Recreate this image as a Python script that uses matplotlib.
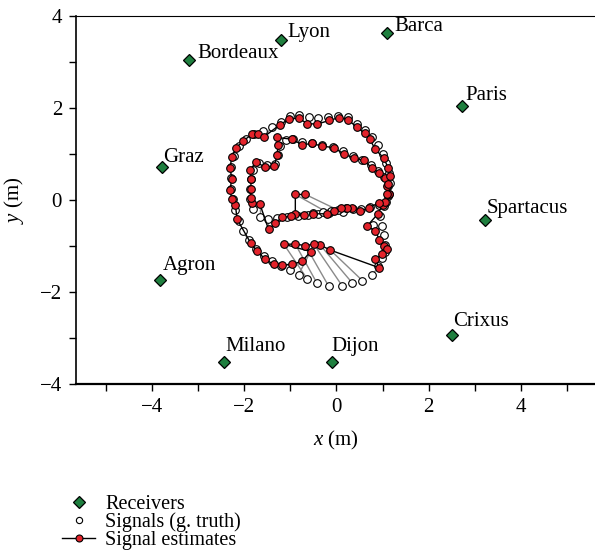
import numpy as np
import matplotlib
matplotlib.use('Agg')
import matplotlib.pyplot as plt
from matplotlib.lines import Line2D

plt.rcParams['font.family'] = ['Liberation Serif', 'DejaVu Serif']
plt.rcParams['mathtext.fontset'] = 'custom'
plt.rcParams['mathtext.rm'] = 'Liberation Serif'
plt.rcParams['mathtext.it'] = 'Liberation Serif:italic'

# receiver positions (m)
rx_names = ['Bordeaux', 'Lyon', 'Barca', 'Paris', 'Graz',
            'Spartacus', 'Agron', 'Crixus', 'Milano', 'Dijon']
rx_x = [-3.19, -1.20, 1.10, 2.72, -3.78, 3.22, -3.81, 2.50, -2.43, -0.10]
rx_y = [3.04, 3.48, 3.63, 2.04, 0.72, -0.43, -1.74, -2.93, -3.52, -3.52]

# ground truth signal track
true_x = [0.14, -0.16, -0.40, -0.62, -0.84, -1.06, -1.28, -1.48, -1.66, -1.80,
          -1.87, -1.88, -1.86, -1.80, -1.68, -1.50, -1.32, -1.26, -1.22, -1.10,
          -0.94, -0.74, -0.53, -0.31, -0.08, 0.14, 0.36, 0.56, 0.74, 0.90,
          1.04, 1.12, 1.12, 1.04, 0.95, 0.80, 0.98, 1.03, 1.06, 1.05,
          0.99, 0.91, 0.76, 0.56, 0.34, 0.12, -0.17, -0.42, -0.63, -0.82,
          -1.00, -1.20, -1.40, -1.57, -1.75, -1.90, -2.03, -2.12, -2.20, -2.25,
          -2.28, -2.29, -2.28, -2.22, -2.10, -1.95, -1.78, -1.58, -1.40, -1.20,
          -1.00, -0.80, -0.60, -0.40, -0.18, 0.04, 0.25, 0.45, 0.62, 0.78,
          0.90, 1.00, 1.08, 1.14, 1.16, 1.14, 1.08, 0.92, 0.72, 0.54,
          0.36, 0.20, 0.04, -0.12, -0.30, -0.50]
true_y = [-0.27, -0.29, -0.31, -0.33, -0.35, -0.37, -0.40, -0.42, -0.36, -0.20,
          0.02, 0.24, 0.46, 0.66, 0.80, 0.76, 0.78, 0.98, 1.18, 1.30,
          1.32, 1.26, 1.25, 1.20, 1.16, 1.06, 0.96, 0.88, 0.76, 0.62,
          0.50, 0.30, 0.08, -0.14, -0.34, -0.55, -0.57, -0.76, -0.97, -1.12,
          -1.26, -1.43, -1.62, -1.75, -1.80, -1.86, -1.87, -1.81, -1.72, -1.62,
          -1.52, -1.43, -1.33, -1.21, -1.06, -0.88, -0.68, -0.46, -0.22, 0.02,
          0.25, 0.48, 0.72, 0.96, 1.18, 1.33, 1.43, 1.50, 1.58, 1.70,
          1.83, 1.84, 1.81, 1.79, 1.81, 1.83, 1.80, 1.66, 1.52, 1.38,
          1.20, 1.00, 0.80, 0.58, 0.36, 0.14, -0.04, -0.10, -0.16, -0.20,
          -0.20, -0.18, -0.22, -0.24, -0.26, -0.28]

# estimated signal track
est_x = [-0.67, -0.89, -0.89, -0.71, -0.98, -1.18, -1.32, -1.47, -1.66, -1.82,
         -1.86, -1.86, -1.84, -1.87, -1.74, -1.55, -1.35, -1.28, -1.27, -1.28,
         -0.96, -0.74, -0.53, -0.31, -0.06, 0.16, 0.38, 0.59, 0.77, 0.92,
         1.06, 1.10, 1.13, 1.00, 0.90, 0.66, 0.84, 0.93, 1.02, 1.10,
         0.99, 0.84, 0.92, -0.13, -0.35, -0.49, -0.67, -0.89, -1.14, -0.56,
         -0.74, -0.96, -1.18, -1.36, -1.54, -1.72, -1.86, -2.15, -2.19, -2.27,
         -2.30, -2.27, -2.30, -2.27, -2.17, -2.02, -1.82, -1.70, -1.56, -1.22,
         -1.02, -0.82, -0.63, -0.42, -0.15, 0.05, 0.25, 0.44, 0.62, 0.72,
         0.84, 1.02, 1.12, 1.16, 1.12, 1.10, 1.06, 0.92, 0.70, 0.52,
         0.34, 0.22, 0.09, -0.06, -0.20, -0.50]
est_y = [0.12, 0.12, -0.30, -0.33, -0.35, -0.38, -0.50, -0.64, -0.08, -0.06,
         0.05, 0.25, 0.45, 0.66, 0.82, 0.72, 0.74, 0.98, 1.20, 1.36,
         1.32, 1.20, 1.23, 1.17, 1.14, 1.00, 0.91, 0.86, 0.70, 0.59,
         0.47, 0.30, 0.12, -0.10, -0.30, -0.57, -0.67, -0.86, -1.00, -1.07,
         -1.18, -1.29, -1.47, -1.09, -0.98, -0.96, -0.99, -0.96, -0.96, -1.12,
         -1.33, -1.40, -1.41, -1.40, -1.29, -1.11, -0.93, -0.42, -0.10, 0.02,
         0.22, 0.46, 0.70, 0.93, 1.14, 1.28, 1.44, 1.43, 1.38, 1.64,
         1.76, 1.78, 1.66, 1.65, 1.73, 1.79, 1.75, 1.58, 1.45, 1.33,
         1.10, 0.92, 0.70, 0.52, 0.34, 0.14, -0.05, -0.06, -0.17, -0.24,
         -0.17, -0.18, -0.17, -0.24, -0.30, -0.30]

green = '#1f7f3f'
red = '#e3232b'

fig = plt.figure(figsize=(5.95, 5.51), dpi=100)
ax = fig.add_axes([76 / 595, 1 - 384 / 551, 1 - 76 / 595, 368 / 551])

# error segments between truth and estimate
for tx, ty, ex, ey in zip(true_x, true_y, est_x, est_y):
    ax.plot([tx, ex], [ty, ey], color='#8a8a8a', lw=1.0, zorder=1)

ax.plot(true_x, true_y, ls='none', marker='o', ms=5.5, mfc='white', mec='black',
        mew=0.8, zorder=2)
ax.plot(est_x, est_y, color='black', lw=1.0, marker='o', ms=5.5, mfc=red,
        mec='black', mew=0.8, zorder=3)

ax.plot(rx_x, rx_y, ls='none', marker='D', ms=6.5, mfc=green, mec='black',
        mew=0.9, zorder=4)

# label offsets in pixels (right, up)
offsets = {'Bordeaux': (8, 2), 'Lyon': (6, 3), 'Barca': (7, 2),
           'Paris': (3, 6), 'Graz': (1, 5), 'Spartacus': (1.5, 7),
           'Agron': (2, 10), 'Crixus': (1.5, 9), 'Milano': (1, 11),
           'Dijon': (0, 11)}
for name, x, y in zip(rx_names, rx_x, rx_y):
    dx, dy = offsets[name]
    ax.annotate(name, (x, y), xytext=(dx * 0.72, dy * 0.72),
                textcoords='offset points', ha='left', va='baseline',
                fontsize=15)

ax.set_xlim(-5.64, 5.6)
ax.set_ylim(-4, 4)
ax.set_xticks([-4, -2, 0, 2, 4])
ax.set_xticks([-5, -3, -1, 1, 3, 5], minor=True)
ax.set_yticks([-4, -2, 0, 2, 4])
ax.set_yticks([-3, -1, 1, 3], minor=True)
ax.tick_params(which='both', direction='out', length=5, width=1.0,
               labelsize=15, pad=5)
ax.spines['right'].set_visible(False)
ax.spines['top'].set_linewidth(0.8)
ax.spines['left'].set_linewidth(1.2)
ax.spines['bottom'].set_linewidth(1.6)

ax.set_xlabel(r'$x$ (m)', fontsize=15, labelpad=9)
ax.set_ylabel(r'$y$ (m)', fontsize=15, labelpad=10)

handles = [
    Line2D([], [], ls='none', marker='D', ms=6.5, mfc=green, mec='black', mew=0.9),
    Line2D([], [], ls='none', marker='o', ms=4.5, mfc='white', mec='black', mew=0.8),
    Line2D([], [], color='black', lw=1.0, marker='o', ms=5, mfc=red, mec='black', mew=0.8),
]
labels = ['Receivers', 'Signals (g. truth)', 'Signal estimates']
fig.legend(handles, labels, loc='upper left', bbox_to_anchor=(62 / 595, 1 - 495 / 551),
           frameon=False, fontsize=14.5, handlelength=1.65, handletextpad=0.5,
           labelspacing=-0.08, borderpad=0, borderaxespad=0)

fig.savefig('out.png', dpi=100)
